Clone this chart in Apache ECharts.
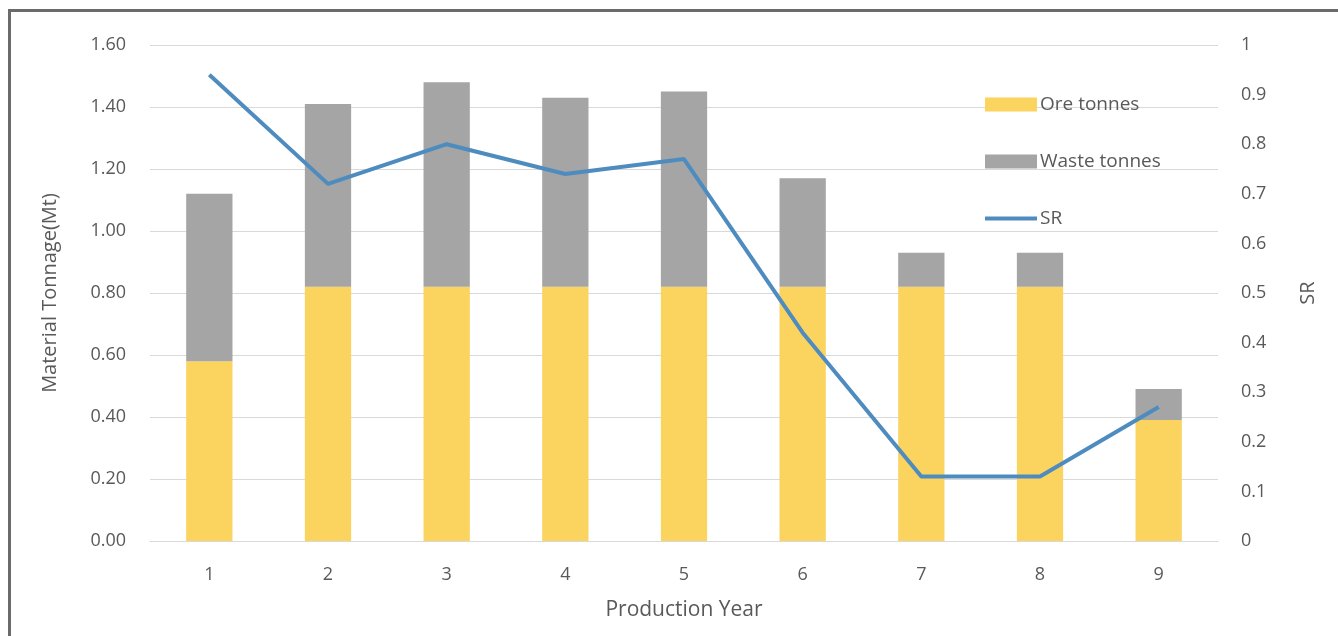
<!DOCTYPE html>
<html>
<head>
<meta charset="utf-8">
<script src="https://cdn.jsdelivr.net/npm/echarts@6/dist/echarts.min.js"></script>
<style>
html,body{margin:0;padding:0;background:#fff;}
#chart{width:1338px;height:636px;}
</style>
</head>
<body>
<div id="chart"></div>
<script>
const years = ['1','2','3','4','5','6','7','8','9'];
const oreTonnes = [0.58, 0.82, 0.82, 0.82, 0.82, 0.82, 0.82, 0.82, 0.39];
const wasteTonnes = [0.54, 0.59, 0.66, 0.61, 0.63, 0.35, 0.11, 0.11, 0.10];
const srValues = [0.94, 0.72, 0.80, 0.74, 0.77, 0.42, 0.13, 0.13, 0.27];
const leftTicks = ['0.00','0.20','0.40','0.60','0.80','1.00','1.20','1.40','1.60'];

const FONT = 'Open Sans';
const TXT = '#595959';

const chart = echarts.init(document.getElementById('chart'));
chart.setOption({
  animation: false,
  textStyle: {fontFamily: FONT},
  grid: {left: 150, right: 120, top: 45, bottom: 95},
  legend: {
    orient: 'vertical',
    left: 980, top: 90,
    itemGap: 38,
    itemWidth: 52, itemHeight: 14,
    textStyle: {fontFamily: FONT, fontSize: 19, color: TXT, padding: [0,0,0,-2]},
    data: [
      {name: 'Ore tonnes', icon: 'rect'},
      {name: 'Waste tonnes', icon: 'rect'},
      {name: 'SR', icon: 'path://M0,5 L52,5 L52,9 L0,9 Z'}
    ]
  },
  graphic: [
    {type: 'rect', shape: {x: 8, y: 9, width: 3, height: 627}, style: {fill: '#6b6b6b'}},
    {type: 'rect', shape: {x: 8, y: 9, width: 1330, height: 3}, style: {fill: '#6b6b6b'}}
  ],
  xAxis: {
    type: 'category',
    data: years,
    name: 'Production Year',
    nameLocation: 'middle',
    nameGap: 59,
    nameTextStyle: {fontSize: 21, color: TXT, fontFamily: FONT},
    axisLine: {lineStyle: {color: '#d9d9d9', width: 1}},
    axisTick: {show: false},
    axisLabel: {fontSize: 18, color: TXT, margin: 25}
  },
  yAxis: [
    {
      type: 'value', min: 0, max: 1.6, interval: 0.2,
      name: 'Material Tonnage(Mt)',
      nameLocation: 'middle', nameGap: 90, nameRotate: 90,
      nameTextStyle: {fontSize: 20, color: TXT, fontFamily: FONT},
      axisLine: {show: false}, axisTick: {show: false},
      axisLabel: {fontSize: 18, color: TXT, margin: 24, formatter: v => leftTicks[Math.round(v / 0.2)]},
      splitLine: {lineStyle: {color: '#d9d9d9', width: 1}}
    },
    {
      type: 'value', min: 0, max: 1, interval: 0.1,
      name: 'SR',
      nameLocation: 'middle', nameGap: 80, nameRotate: 90,
      nameTextStyle: {fontSize: 20, color: TXT, fontFamily: FONT},
      axisLine: {show: false}, axisTick: {show: false},
      axisLabel: {fontSize: 18, color: TXT, margin: 23, align: 'left', formatter: v => String(Math.round(v * 10) / 10)},
      splitLine: {show: false}
    }
  ],
  series: [
    {
      name: 'Ore tonnes', type: 'bar', stack: 'total', barWidth: '39%',
      itemStyle: {color: '#fbd35f'}, data: oreTonnes
    },
    {
      name: 'Waste tonnes', type: 'bar', stack: 'total', barWidth: '39%',
      itemStyle: {color: '#a5a5a5'}, data: wasteTonnes
    },
    {
      name: 'SR', type: 'line', yAxisIndex: 1,
      symbol: 'none', data: srValues,
      lineStyle: {color: '#4e8cc0', width: 4},
      itemStyle: {color: '#4e8cc0'}
    }
  ]
});
</script>
</body>
</html>
